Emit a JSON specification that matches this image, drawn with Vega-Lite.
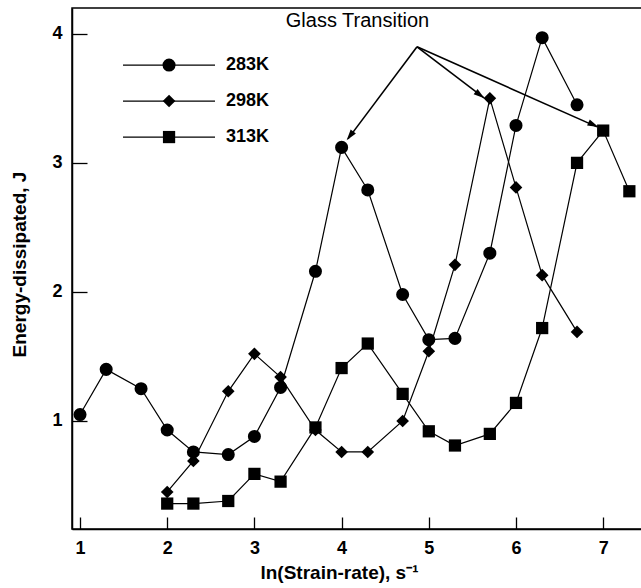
{
  "$schema": "https://vega.github.io/schema/vega-lite/v6.json",
  "width": 570,
  "height": 521,
  "autosize": {"type": "none"},
  "padding": {"left": 72, "top": 8, "right": 0, "bottom": 59},
  "config": {
    "font": "Liberation Sans",
    "view": {"stroke": "black", "strokeWidth": 1.5},
    "axis": {"grid": false, "domainColor": "black", "domainWidth": 1.5, "tickColor": "black", "tickWidth": 1.3, "labelColor": "black", "titleColor": "black", "labelFont": "Liberation Sans", "titleFont": "Liberation Sans", "labelFontWeight": "bold", "titleFontWeight": "bold"}
  },
  "datasets": {
    "series": [
      {"series": "283K", "x": 1.0, "y": 1.05}, {"series": "283K", "x": 1.3, "y": 1.40}, {"series": "283K", "x": 1.7, "y": 1.25}, {"series": "283K", "x": 2.0, "y": 0.93}, {"series": "283K", "x": 2.3, "y": 0.76}, {"series": "283K", "x": 2.7, "y": 0.74}, {"series": "283K", "x": 3.0, "y": 0.88}, {"series": "283K", "x": 3.3, "y": 1.26}, {"series": "283K", "x": 3.7, "y": 2.16}, {"series": "283K", "x": 4.0, "y": 3.12}, {"series": "283K", "x": 4.3, "y": 2.79}, {"series": "283K", "x": 4.7, "y": 1.98}, {"series": "283K", "x": 5.0, "y": 1.63}, {"series": "283K", "x": 5.3, "y": 1.64}, {"series": "283K", "x": 5.7, "y": 2.30}, {"series": "283K", "x": 6.0, "y": 3.29}, {"series": "283K", "x": 6.3, "y": 3.97}, {"series": "283K", "x": 6.7, "y": 3.45},
      {"series": "298K", "x": 2.0, "y": 0.45}, {"series": "298K", "x": 2.3, "y": 0.69}, {"series": "298K", "x": 2.7, "y": 1.23}, {"series": "298K", "x": 3.0, "y": 1.52}, {"series": "298K", "x": 3.3, "y": 1.34}, {"series": "298K", "x": 3.7, "y": 0.93}, {"series": "298K", "x": 4.0, "y": 0.76}, {"series": "298K", "x": 4.3, "y": 0.76}, {"series": "298K", "x": 4.7, "y": 1.00}, {"series": "298K", "x": 5.0, "y": 1.54}, {"series": "298K", "x": 5.3, "y": 2.21}, {"series": "298K", "x": 5.7, "y": 3.50}, {"series": "298K", "x": 6.0, "y": 2.81}, {"series": "298K", "x": 6.3, "y": 2.13}, {"series": "298K", "x": 6.7, "y": 1.69},
      {"series": "313K", "x": 2.0, "y": 0.36}, {"series": "313K", "x": 2.3, "y": 0.36}, {"series": "313K", "x": 2.7, "y": 0.38}, {"series": "313K", "x": 3.0, "y": 0.59}, {"series": "313K", "x": 3.3, "y": 0.53}, {"series": "313K", "x": 3.7, "y": 0.95}, {"series": "313K", "x": 4.0, "y": 1.41}, {"series": "313K", "x": 4.3, "y": 1.60}, {"series": "313K", "x": 4.7, "y": 1.21}, {"series": "313K", "x": 5.0, "y": 0.92}, {"series": "313K", "x": 5.3, "y": 0.81}, {"series": "313K", "x": 5.7, "y": 0.90}, {"series": "313K", "x": 6.0, "y": 1.14}, {"series": "313K", "x": 6.3, "y": 1.72}, {"series": "313K", "x": 6.7, "y": 3.00}, {"series": "313K", "x": 7.0, "y": 3.25}, {"series": "313K", "x": 7.3, "y": 2.78}
    ],
    "legend": [
      {"series": "283K", "x1": 1.493, "x2": 2.548, "xm": 2.021, "xt": 2.674, "y": 3.758},
      {"series": "298K", "x1": 1.493, "x2": 2.548, "xm": 2.021, "xt": 2.674, "y": 3.479},
      {"series": "313K", "x1": 1.493, "x2": 2.548, "xm": 2.021, "xt": 2.674, "y": 3.200}
    ],
    "arrows": [
      {"id": 1, "x": 4.865, "y": 3.899, "x2": 4.073, "y2": 3.186, "hx": 4.096, "hy": 3.209},
      {"id": 2, "x": 4.865, "y": 3.899, "x2": 5.633, "y2": 3.504, "hx": 5.587, "hy": 3.527},
      {"id": 3, "x": 4.865, "y": 3.899, "x2": 6.929, "y2": 3.279, "hx": 6.888, "hy": 3.295}
    ],
    "note": [{"label": "Glass Transition", "x": 4.182, "y": 4.052}]
  },
  "layer": [
    {
      "data": {"name": "series"},
      "mark": {"type": "line", "color": "black", "strokeWidth": 1.2},
      "encoding": {
        "x": {"field": "x", "type": "quantitative", "title": "ln(Strain-rate), s⁻¹", "scale": {"domain": [0.908, 7.445], "nice": false, "zero": false},
              "axis": {"values": [1, 2, 3, 4, 5, 6, 7], "format": "d", "tickSize": -12, "labelPadding": 22, "labelFontSize": 18, "titleFontSize": 19, "titleX": 267, "titleY": 49, "titleBaseline": "alphabetic", "titleAlign": "center", "labelFlush": false}},
        "y": {"field": "y", "type": "quantitative", "title": "Energy-dissipated, J", "scale": {"domain": [0.163, 4.2], "nice": false, "zero": false},
              "axis": {"values": [1, 2, 3, 4], "format": "d", "tickSize": -15, "labelPadding": 25, "labelFontSize": 18, "titleFontSize": 19, "titleX": -47, "titleY": 256, "titleBaseline": "alphabetic", "titleAlign": "center", "labelFlush": false}},
        "detail": {"field": "series"}
      }
    },
    {
      "data": {"name": "series"},
      "mark": {"type": "point", "filled": true, "color": "black", "opacity": 1},
      "encoding": {
        "x": {"field": "x", "type": "quantitative", "title": "ln(Strain-rate), s⁻¹"},
        "y": {"field": "y", "type": "quantitative", "title": "Energy-dissipated, J"},
        "shape": {"field": "series", "type": "nominal", "scale": {"domain": ["283K", "298K", "313K"], "range": ["circle", "diamond", "square"]}, "legend": null},
        "size": {"field": "series", "type": "nominal", "scale": {"domain": ["283K", "298K", "313K"], "range": [170, 150, 78]}, "legend": null}
      }
    },
    {
      "data": {"name": "legend"},
      "mark": {"type": "rule", "color": "black", "strokeWidth": 1.2},
      "encoding": {
        "x": {"field": "x1", "type": "quantitative", "title": "ln(Strain-rate), s⁻¹"},
        "x2": {"field": "x2"},
        "y": {"field": "y", "type": "quantitative", "title": "Energy-dissipated, J"}
      }
    },
    {
      "data": {"name": "legend"},
      "mark": {"type": "point", "filled": true, "color": "black", "opacity": 1},
      "encoding": {
        "x": {"field": "xm", "type": "quantitative", "title": "ln(Strain-rate), s⁻¹"},
        "y": {"field": "y", "type": "quantitative", "title": "Energy-dissipated, J"},
        "shape": {"field": "series", "type": "nominal", "legend": null},
        "size": {"field": "series", "type": "nominal", "legend": null}
      }
    },
    {
      "data": {"name": "legend"},
      "mark": {"type": "text", "align": "left", "baseline": "middle", "fontSize": 18, "fontWeight": "bold", "color": "black", "font": "Liberation Sans"},
      "encoding": {
        "x": {"field": "xt", "type": "quantitative", "title": "ln(Strain-rate), s⁻¹"},
        "y": {"field": "y", "type": "quantitative", "title": "Energy-dissipated, J"},
        "text": {"field": "series"}
      }
    },
    {
      "data": {"name": "arrows"},
      "mark": {"type": "rule", "color": "black", "strokeWidth": 1.6},
      "encoding": {
        "x": {"field": "x", "type": "quantitative", "title": "ln(Strain-rate), s⁻¹"},
        "y": {"field": "y", "type": "quantitative", "title": "Energy-dissipated, J"},
        "x2": {"field": "x2"},
        "y2": {"field": "y2"}
      }
    },
    {
      "data": {"name": "arrows"},
      "transform": [{"filter": "datum.id == 1"}],
      "mark": {"type": "point", "shape": "M0,-1L0.6,1L-0.6,1Z", "filled": true, "color": "black", "opacity": 1, "size": 120, "angle": 217},
      "encoding": {
        "x": {"field": "hx", "type": "quantitative", "title": "ln(Strain-rate), s⁻¹"},
        "y": {"field": "hy", "type": "quantitative", "title": "Energy-dissipated, J"}
      }
    },
    {
      "data": {"name": "arrows"},
      "transform": [{"filter": "datum.id == 2"}],
      "mark": {"type": "point", "shape": "M0,-1L0.6,1L-0.6,1Z", "filled": true, "color": "black", "opacity": 1, "size": 120, "angle": 127},
      "encoding": {
        "x": {"field": "hx", "type": "quantitative", "title": "ln(Strain-rate), s⁻¹"},
        "y": {"field": "hy", "type": "quantitative", "title": "Energy-dissipated, J"}
      }
    },
    {
      "data": {"name": "arrows"},
      "transform": [{"filter": "datum.id == 3"}],
      "mark": {"type": "point", "shape": "M0,-1L0.6,1L-0.6,1Z", "filled": true, "color": "black", "opacity": 1, "size": 120, "angle": 114},
      "encoding": {
        "x": {"field": "hx", "type": "quantitative", "title": "ln(Strain-rate), s⁻¹"},
        "y": {"field": "hy", "type": "quantitative", "title": "Energy-dissipated, J"}
      }
    },
    {
      "data": {"name": "note"},
      "mark": {"type": "text", "align": "center", "baseline": "alphabetic", "fontSize": 20, "color": "black", "font": "Liberation Sans"},
      "encoding": {
        "x": {"field": "x", "type": "quantitative", "title": "ln(Strain-rate), s⁻¹"},
        "y": {"field": "y", "type": "quantitative", "title": "Energy-dissipated, J"},
        "text": {"field": "label"}
      }
    }
  ]
}
